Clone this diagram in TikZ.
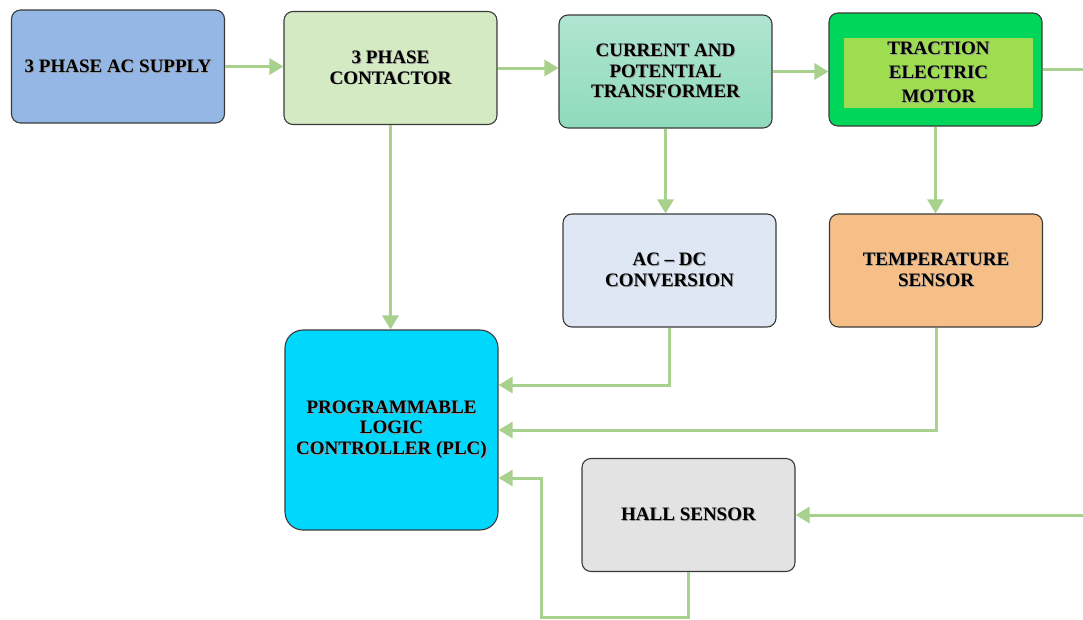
\documentclass[tikz,border=0pt]{standalone}
\usepackage{fontspec}
\setmainfont{Liberation Serif}
\usetikzlibrary{arrows.meta}

\definecolor{wirecol}{HTML}{A9D18E}
\definecolor{boxline}{HTML}{3A3A3A}
\definecolor{supplyfill}{HTML}{95B7E5}
\definecolor{contactfill}{HTML}{D4EAC3}
\definecolor{cttop}{HTML}{B0E5D2}
\definecolor{ctbot}{HTML}{8FDBBC}
\definecolor{motorout}{HTML}{00D65A}
\definecolor{motorin}{HTML}{9EDD50}
\definecolor{acdcfill}{HTML}{DFE7F5}
\definecolor{tempfill}{HTML}{F6BF88}
\definecolor{plcfill}{HTML}{00D7FD}
\definecolor{hallfill}{HTML}{E3E3E3}

% one line of label text with a soft offset shadow behind it
\newcommand\shline[1]{\makebox[0pt][l]{\hspace{0.9pt}\raisebox{-0.9pt}{\color{black!40}#1}}#1}

\begin{document}
\begin{tikzpicture}[x=1pt,y=-1pt,
  box/.style={draw=boxline, line width=1.1pt, rounded corners=9pt,
    minimum width=213pt, minimum height=113pt, inner sep=0pt, align=center,
    font=\bfseries\fontsize{19}{20.5}\selectfont},
  wire/.style={draw=wirecol, line width=3pt},
  flow/.style={wire, -{Triangle[length=14pt,width=16pt]}}]

\useasboundingbox (0,0) rectangle (1083,619);

% blocks
\node[box, fill=supplyfill] (sup) at (118,66.5) {\shline{3 PHASE AC SUPPLY}};
\node[box, fill=contactfill] (con) at (390.5,68) {\shline{3 PHASE}\\\shline{CONTACTOR}};
\node[box, top color=cttop, bottom color=ctbot] (ct) at (665.5,71.5)
  {\shline{CURRENT AND}\\\shline{POTENTIAL}\\\shline{TRANSFORMER}};
\node[box, fill=motorout] (mot) at (935.5,69.5) {};
\node[fill=motorin, minimum width=189pt, minimum height=70pt, inner sep=0pt, align=center,
  font=\bfseries\fontsize{19}{24}\selectfont] (motin) at (938.5,73)
  {\shline{TRACTION}\\\shline{ELECTRIC}\\\shline{MOTOR}};
\node[box, fill=acdcfill] (acdc) at (669.5,270.5) {\shline{AC -- DC}\\\shline{CONVERSION}};
\node[box, fill=tempfill] (temp) at (936,270.5) {\shline{TEMPERATURE}\\\shline{SENSOR}};
\node[box, fill=plcfill, minimum height=200pt, rounded corners=18pt] (plc) at (391.5,430)
  {\shline{PROGRAMMABLE}\\\shline{LOGIC}\\\shline{CONTROLLER (PLC)}};
\node[box, fill=hallfill] (hall) at (688.5,515) {\shline{HALL SENSOR}};

% free ends at the right edge and the bottom return path
\coordinate (motout) at (1083,69.5);
\coordinate (hallin) at (1083,515);
\coordinate (loop) at (541,617);

% connectors
\draw[flow] (sup.east) -- (sup.east -| con.west);
\draw[flow] (con.east) -- (con.east -| ct.west);
\draw[flow] (ct.east) -- (ct.east -| mot.west);
\draw[wire] (mot.east) -- (motout);
\draw[flow] (con.south) -- (con.south |- plc.north);
\draw[flow] (ct.south) -- (ct.south |- acdc.north);
\draw[flow] (mot.south) -- (mot.south |- temp.north);
\draw[flow] (acdc.south) |- ([yshift=45pt]plc.east);
\draw[flow] (temp.south) |- (plc.east);
\draw[flow] (hallin) -- (hall.east);
\draw[flow] (hall.south) |- (loop) |- ([yshift=-48pt]plc.east);
\end{tikzpicture}
\end{document}
